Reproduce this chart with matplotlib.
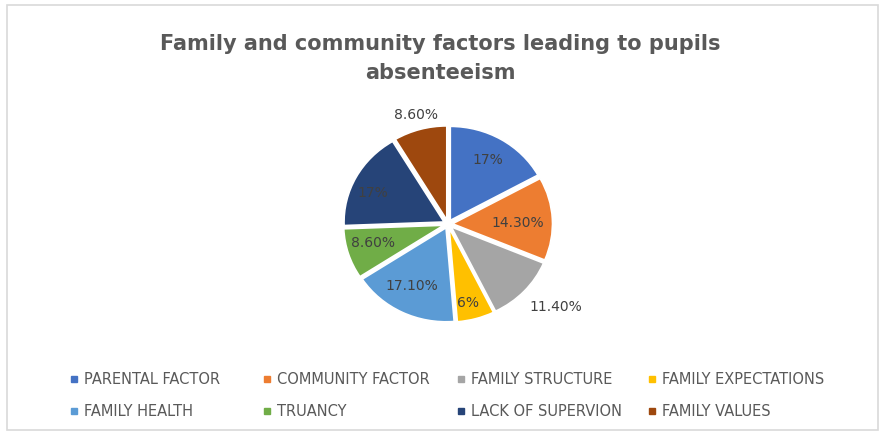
import matplotlib
matplotlib.use("Agg")
import matplotlib.pyplot as plt
import numpy as np
from matplotlib.patches import Rectangle
from matplotlib.lines import Line2D

# data
categories = ["PARENTAL FACTOR", "COMMUNITY FACTOR", "FAMILY STRUCTURE", "FAMILY EXPECTATIONS",
              "FAMILY HEALTH", "TRUANCY", "LACK OF SUPERVION", "FAMILY VALUES"]
values = [17, 14.3, 11.4, 6, 17.1, 8.6, 17, 8.6]
value_labels = ["17%", "14.30%", "11.40%", "6%", "17.10%", "8.60%", "17%", "8.60%"]

colors = ["#4472C4", "#ED7D31", "#A5A5A5", "#FFC000", "#5B9BD5", "#70AD47", "#264478", "#9E480E"]
# label placement: distance from centre and small angle nudge (deg)
label_dist = [0.79, 0.70, 1.39, 0.86, 0.75, 0.78, 0.82, 1.20]
label_turn = [0, -2, 4, -2, -2.5, -3, 4.5, 0]

W, H = 881, 432
fig = plt.figure(figsize=(W / 100, H / 100), dpi=100)

# chart frame
fig.patches.append(Rectangle((7 / W, 2 / H), 871 / W, (H - 7) / H, transform=fig.transFigure,
                             fill=False, edgecolor="#D9D9D9", linewidth=1.2))

# pie axes, centre at (448, 224) px; picture is slightly squashed vertically
RX, RY = 100, 94
cx, cy = 448, 224
span = 1.5
ax = fig.add_axes([(cx - span * RX) / W, (H - cy - span * RY) / H, 2 * span * RX / W, 2 * span * RY / H])

wedges, _ = ax.pie(values, colors=colors, startangle=90, counterclock=False,
                   explode=[0.045] * len(values), radius=1.0, frame=False,
                   wedgeprops=dict(edgecolor="white", linewidth=1.2))
ax.set_aspect("auto")
ax.set_xlim(-span, span)
ax.set_ylim(-span, span)
ax.set_axis_off()

for w, lab, d, t in zip(wedges, value_labels, label_dist, label_turn):
    ang = np.deg2rad((w.theta1 + w.theta2) / 2 + t)
    ax.text(d * np.cos(ang), d * np.sin(ang), lab, ha="center", va="center",
            fontsize=10, color="#404040")

fig.text(0.5, 1 - 44 / H, "Family and community factors leading to pupils", ha="center", va="center",
         fontsize=15, fontweight="bold", color="#595959")
fig.text(0.5, 1 - 73 / H, "absenteeism", ha="center", va="center",
         fontsize=15, fontweight="bold", color="#595959")

# Excel-style legend: equal column widths, filled row by row
col_x = [70, 263, 457, 648]
for c in range(4):
    idx = [c, c + 4]
    handles = [Line2D([], [], marker="s", linestyle="none", markersize=4.5, color=colors[i]) for i in idx]
    fig.legend(handles, [categories[i] for i in idx], loc="center left",
               bbox_to_anchor=(col_x[c] / W, 1 - 395.5 / H), frameon=False, fontsize=10.5,
               labelcolor="#595959", handlelength=0.6, handletextpad=0.35,
               labelspacing=1.15, borderpad=0, borderaxespad=0)

fig.savefig("out.png", dpi=100)
